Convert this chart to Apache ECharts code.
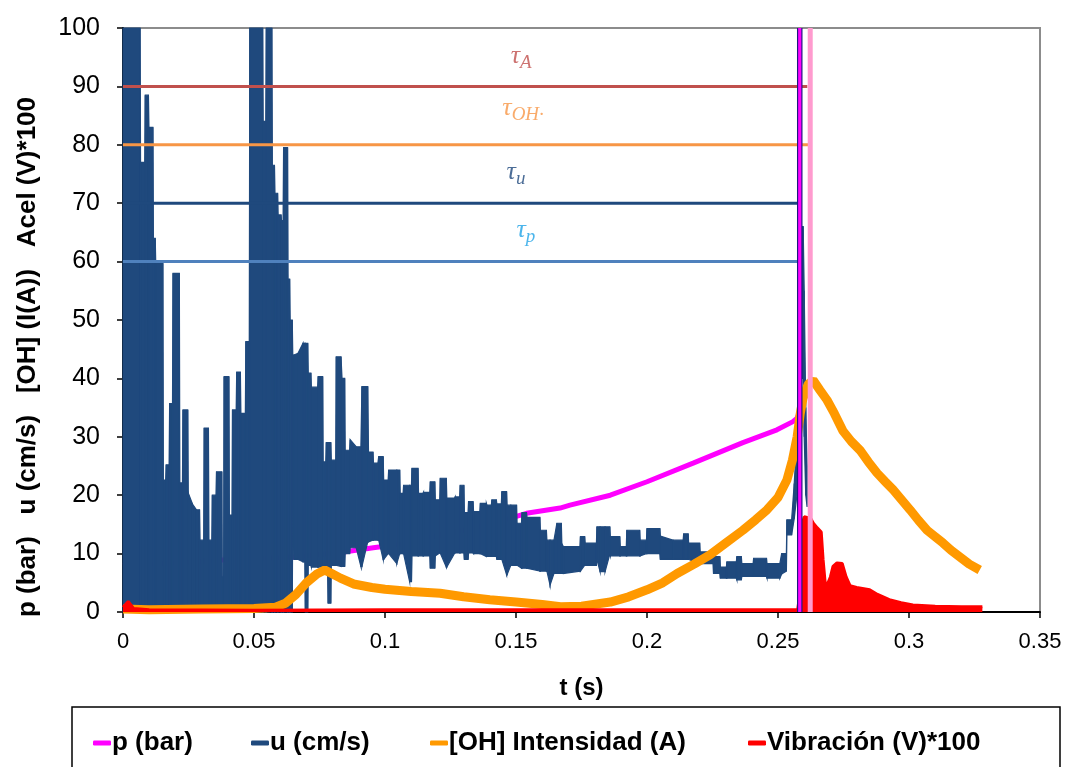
<!DOCTYPE html>
<html><head><meta charset="utf-8">
<script src="https://cdn.jsdelivr.net/npm/echarts@6/dist/echarts.min.js"></script>
<style>html,body{margin:0;padding:0;background:#fff}#c{width:1069px;height:767px}</style>
</head><body><div id="c"></div>
<script>
// ---------- DATA ----------
const seriesNames = ['p (bar)', 'u (cm/s)', '[OH] Intensidad (A)', 'Vibración (V)*100'];
const seriesColors = ['#FF00FF', '#1F497D', '#FF9900', '#FF0000'];

// p (bar): [t, value]
const pData = [
  [0.000, 8.0], [0.020, 8.4], [0.038, 8.9], [0.050, 9.1], [0.065, 9.4], [0.083, 10.2],
  [0.0955, 11.0], [0.1095, 11.8], [0.1134, 12.5], [0.130, 14.0], [0.140, 15.0], [0.154, 16.9],
  [0.1668, 17.8], [0.1706, 18.3], [0.186, 20.0], [0.200, 22.3], [0.2176, 25.5], [0.2366, 29.0],
  [0.2496, 31.2], [0.2557, 32.6], [0.2573, 33.2], [0.2580, 34.0]
];

// u (cm/s): [t, low envelope, high envelope]
const uEnvelope = [
  [0.0000, 0, 100], [0.0065, 0, 100], [0.0067, 0, 77], [0.0083, 0, 77], [0.0085, 0, 88.5],
  [0.0097, 0, 88.5], [0.0099, 0, 83], [0.0114, 0, 83], [0.0116, 0, 64], [0.0123, 0, 64],
  [0.0125, 0, 59.7], [0.0152, 0, 59.7], [0.0154, 0, 22.6], [0.0163, 0, 22.6], [0.0165, 0, 25.2],
  [0.0176, 0, 25.2], [0.0178, 0, 35.7], [0.0189, 0, 35.7], [0.0191, 0, 58], [0.0215, 0, 58],
  [0.0217, 0, 22.1], [0.0227, 0, 22.1], [0.0229, 0, 34.6], [0.0247, 0, 34.6], [0.0249, 0, 20.4],
  [0.0265, 0, 18.5], [0.0280, 0, 17.5], [0.0292, 0, 17.5], [0.0294, 0, 12.3], [0.0308, 0, 12.3],
  [0.0310, 0, 31.5], [0.0326, 0, 31.5], [0.0328, 0, 12.3], [0.0339, 0, 12.3], [0.0341, 0, 20],
  [0.0355, 0, 20], [0.0357, 0, 24], [0.0377, 0, 24], [0.0379, 0, 6], [0.0384, 0, 6],
  [0.0386, 0, 40.3], [0.0404, 0, 40.3], [0.0406, 0, 16.6], [0.0416, 0, 16.6], [0.0418, 0, 34.6],
  [0.0432, 0, 34.6], [0.0434, 0, 41.1], [0.0448, 0, 41.1], [0.0450, 0, 34], [0.0467, 0, 34],
  [0.0469, 0, 46.3], [0.0482, 0, 46.3], [0.0484, 0, 100], [0.0533, 0, 100], [0.0535, 0, 84],
  [0.0545, 0, 84], [0.0547, 0, 100], [0.0568, 0, 100], [0.0570, 0, 76.5], [0.0578, 0, 76.5],
  [0.0580, 0, 71.7], [0.0590, 0, 71.7], [0.0592, 0, 68], [0.0603, 0, 68], [0.0605, 0, 67],
  [0.0611, 0, 67], [0.0613, 0, 79.5], [0.0628, 0, 79.5], [0.0630, 0, 57], [0.0636, 0, 57],
  [0.0638, 0, 50], [0.0646, 0, 50], [0.0648, 19, 44], [0.0652, 9, 44], [0.0668, 9, 44.3],
  [0.0687, 8.6, 46], [0.0694, 8.6, 46], [0.0696, 0, 46], [0.0705, 0, 46], [0.0707, 8, 40.9],
  [0.0717, 8, 40.9], [0.0719, 7.7, 38.5], [0.0743, 7.7, 38.5], [0.0745, 7.7, 40.3], [0.0762, 7.7, 40.3],
  [0.0764, 8, 25.7], [0.0774, 8, 25.7], [0.0776, 7, 29], [0.0781, 7, 29], [0.0783, 1.5, 29],
  [0.0793, 1.5, 29], [0.0795, 8, 26], [0.0812, 8, 26], [0.0814, 8, 43.7], [0.0832, 7.8, 43.7],
  [0.0836, 7.8, 40], [0.0846, 7.8, 40], [0.0848, 10, 27.7], [0.0865, 10, 27.7], [0.0867, 11, 29.5],
  [0.0890, 11, 28.3], [0.0908, 7.8, 28.3], [0.0912, 7.8, 38.6], [0.0934, 12, 38.6], [0.0937, 12, 27.4],
  [0.0954, 12.3, 27.4], [0.0956, 12.3, 25.5], [0.0973, 12.3, 25.5], [0.0976, 12.3, 26.6], [0.0993, 9, 26.6],
  [0.0995, 9, 22.6], [0.1012, 10, 22.6], [0.1014, 10, 24.3], [0.1045, 8.3, 24.3], [0.1056, 10, 24.3],
  [0.1058, 10, 20.3], [0.1069, 10, 20.3], [0.1071, 10, 21.7], [0.1094, 5.2, 21.7], [0.1101, 5.2, 21.7],
  [0.1103, 9.6, 24.6], [0.1126, 9.6, 24.6], [0.1128, 9.6, 20.3], [0.1145, 9.6, 20.3], [0.1147, 9.6, 20.5],
  [0.1171, 9.6, 20.5], [0.1173, 7.5, 22.3], [0.1190, 7.5, 22.3], [0.1192, 9.6, 19.2], [0.1209, 10.1, 19.2],
  [0.1211, 10.1, 22.9], [0.1234, 7.7, 22.9], [0.1236, 7.7, 19.5], [0.1266, 10.1, 19.5], [0.1268, 10.1, 19.7],
  [0.1285, 10.1, 19.7], [0.1287, 10.1, 21.7], [0.1301, 10.1, 21.7], [0.1303, 9, 17], [0.1317, 9, 17],
  [0.1319, 10.1, 18.9], [0.1336, 10.1, 18.9], [0.1338, 10, 17.2], [0.1362, 10, 17.2], [0.1364, 10, 18.6],
  [0.1387, 9.5, 18.6], [0.1389, 9.5, 18.3], [0.1406, 9.5, 18.3], [0.1408, 9.5, 19.2], [0.1425, 9.5, 19.2],
  [0.1427, 9, 18.5], [0.1444, 9, 18.5], [0.1446, 9, 20.6], [0.1464, 6.4, 20.6], [0.1466, 6.4, 18.3],
  [0.1480, 8, 18.3], [0.1502, 8, 18.3], [0.1504, 8, 15.2], [0.1521, 7.5, 15.2], [0.1523, 7.5, 17],
  [0.1540, 7.5, 17], [0.1542, 7.5, 16.2], [0.1591, 7, 16.2], [0.1593, 7, 14], [0.1616, 7, 14],
  [0.1618, 7, 12.3], [0.1630, 4.6, 12.3], [0.1645, 6.6, 12.3], [0.1656, 6.6, 15.2], [0.1673, 6.6, 15.2],
  [0.1675, 6.6, 11.7], [0.1681, 6.6, 11.2], [0.1744, 7, 11.2], [0.1746, 7, 12.9], [0.1762, 8, 12.9],
  [0.1764, 8, 11.8], [0.1807, 8, 11.8], [0.1809, 9, 14.6], [0.1821, 6.9, 14.6], [0.1840, 6.9, 14.6],
  [0.1858, 9.9, 14.6], [0.1860, 9.6, 12.9], [0.1896, 9.6, 12.9], [0.1898, 9.6, 11.2], [0.1921, 9.6, 11.2],
  [0.1923, 9.6, 14], [0.1972, 9.6, 14], [0.1974, 9.6, 12.3], [0.1998, 10, 12.3], [0.2000, 10, 14.3],
  [0.2049, 10, 14.3], [0.2051, 9, 13], [0.2100, 9, 12.3], [0.2138, 9, 12.3], [0.2140, 9, 13.4],
  [0.2157, 9, 13.4], [0.2159, 9, 11.8], [0.2201, 8.3, 11.8], [0.2203, 8.3, 10.3], [0.2252, 8.3, 10.3],
  [0.2254, 6.6, 9.5], [0.2278, 6.6, 9.5], [0.2280, 5.8, 7.7], [0.2303, 5.8, 7.7], [0.2305, 5.8, 8.6],
  [0.2341, 5.8, 8.6], [0.2343, 5.5, 9.5], [0.2360, 5.5, 9.5], [0.2362, 6.1, 8.3], [0.2405, 6.1, 8.3],
  [0.2407, 6.1, 9.2], [0.2456, 6.1, 9.2], [0.2458, 5.8, 8.3], [0.2507, 5.8, 8.3], [0.2514, 6.5, 10],
  [0.2532, 7, 10], [0.2534, 13.2, 15.8], [0.2552, 13.2, 15.8], [0.2562, 16, 22], [0.2572, 20, 30],
  [0.2582, 30, 48], [0.2588, 40, 66], [0.2596, 40, 66], [0.2600, 30, 55], [0.2606, 20, 35],
  [0.2611, 18, 25]
];

// [OH] Intensidad (A): [t, value]
const ohData = [
  [0.000, 0.5], [0.010, 0.4], [0.030, 0.5], [0.050, 0.6], [0.058, 0.8], [0.062, 1.5], [0.066, 3.0],
  [0.070, 5.0], [0.074, 6.5], [0.077, 7.2], [0.080, 6.5], [0.083, 5.8], [0.088, 4.8], [0.095, 4.2],
  [0.100, 3.9], [0.110, 3.5], [0.121, 3.2], [0.130, 2.6], [0.140, 2.1], [0.150, 1.7], [0.160, 1.3],
  [0.167, 0.9], [0.175, 1.0], [0.186, 1.7], [0.193, 2.6], [0.200, 3.8], [0.206, 5.0], [0.2115, 6.6],
  [0.218, 8.2], [0.224, 9.8], [0.230, 11.8], [0.2366, 14.0], [0.2415, 15.8], [0.2458, 17.5],
  [0.250, 19.6], [0.2534, 22.6], [0.2555, 26.0], [0.2573, 30.0], [0.2585, 34.0], [0.2595, 36.5],
  [0.2615, 39.0], [0.2634, 39.7], [0.2660, 38.0], [0.2687, 36.3], [0.2715, 34.0], [0.2748, 31.0],
  [0.2780, 29.2], [0.2813, 27.7], [0.2845, 25.7], [0.2878, 23.8], [0.2910, 22.3], [0.2940, 20.9],
  [0.2972, 19.2], [0.3004, 17.5], [0.3036, 15.7], [0.3069, 14.0], [0.3100, 12.9], [0.3130, 11.8],
  [0.3160, 10.6], [0.3195, 9.4], [0.3230, 8.2], [0.3270, 7.2]
];

// Vibración (V)*100: [t, value]
const vibData = [
  [0.000, 0.8], [0.002, 1.8], [0.004, 0.6], [0.010, 0.4], [0.050, 0.3], [0.100, 0.4], [0.150, 0.4],
  [0.200, 0.4], [0.2575, 0.4], [0.2580, 2.0], [0.2586, 12.0], [0.2592, 15.0], [0.2600, 16.3],
  [0.2625, 16.0], [0.2635, 15.2], [0.2650, 14.4], [0.2665, 13.7], [0.2672, 9.0], [0.2680, 5.0],
  [0.2690, 4.9], [0.2700, 6.0], [0.2710, 7.8], [0.2725, 8.4], [0.2745, 8.3], [0.2760, 6.0],
  [0.2775, 4.5], [0.2800, 4.2], [0.2850, 3.8], [0.2880, 3.0], [0.2925, 2.1], [0.2970, 1.6],
  [0.3015, 1.2], [0.3100, 1.0], [0.3200, 0.9], [0.3280, 0.9]
];

// reference (tau) lines and labels
const tauLevels = [90, 80, 70, 60];
const tauEnds = [0.2612, 0.2627, 0.2590, 0.2587];
const tauLineColors = ['#C0504D', '#F79646', '#1F497D', '#4F81BD'];
const tauSubs = ['A', 'OH·', 'u', 'p'];
const tauLabelPos = [[0.1520, 95.2], [0.1527, 86.3], [0.1500, 75.3], [0.1538, 65.4]];
const tauLabelColors = ['#C0504D', '#F79646', '#1F497D', '#1FA3E6'];

// vertical marker lines
const markerTimes = [0.2583, 0.2623];

// ---------- CHART ----------
const chart = echarts.init(document.getElementById('c'));
const FONT = 'Liberation Sans, Arial, sans-serif';
const legendLeft = [93, 251, 430, 748];

const series = [];
series.push({
  name: seriesNames[0], type: 'line', data: pData, showSymbol: false, symbol: 'none',
  lineStyle: { color: seriesColors[0], width: 5 }, itemStyle: { color: seriesColors[0] }, z: 2
});
// u band: one quad per envelope segment, placed through the axes
series.push({
  name: seriesNames[1], type: 'custom', z: 3, silent: true,
  itemStyle: { color: seriesColors[1] },
  encode: { x: 0, y: [1, 2] },
  data: uEnvelope,
  renderItem: function (params, api) {
    const i = params.dataIndex;
    if (i >= uEnvelope.length - 1) return null;
    const a = uEnvelope[i], b = uEnvelope[i + 1];
    const pts = [
      api.coord([a[0], a[2]]), api.coord([b[0], b[2]]),
      api.coord([b[0], b[1]]), api.coord([a[0], a[1]])
    ];
    return {
      type: 'polygon',
      shape: { points: pts },
      style: { fill: seriesColors[1], stroke: seriesColors[1], lineWidth: 1.2 }
    };
  }
});
series.push({
  name: seriesNames[2], type: 'line', data: ohData, showSymbol: false, symbol: 'none',
  lineStyle: { color: seriesColors[2], width: 9 }, itemStyle: { color: seriesColors[2] }, z: 4
});
series.push({
  name: seriesNames[3], type: 'line', data: vibData, showSymbol: false, symbol: 'none',
  lineStyle: { color: seriesColors[3], width: 3 }, itemStyle: { color: seriesColors[3] },
  areaStyle: { color: seriesColors[3], opacity: 1 }, z: 5
});
tauLevels.forEach((lv, i) => {
  series.push({
    name: 'tau' + i, type: 'line', data: [[0, lv], [tauEnds[i], lv]], showSymbol: false, symbol: 'none',
    lineStyle: { color: tauLineColors[i], width: 3 }, z: 6, silent: true
  });
});
series.push({
  name: 'vline0', type: 'line', data: [[markerTimes[0], 0], [markerTimes[0], 100]], showSymbol: false, symbol: 'none',
  lineStyle: { color: '#1A1A7E', width: 5.5 }, z: 7, silent: true
});
series.push({
  name: 'vline1', type: 'line', data: [[markerTimes[0], 0], [markerTimes[0], 100]], showSymbol: false, symbol: 'none',
  lineStyle: { color: '#FF00FF', width: 3.2 }, z: 8, silent: true
});
series.push({
  name: 'vline2', type: 'line', data: [[markerTimes[1], 0], [markerTimes[1], 100]], showSymbol: false, symbol: 'none',
  lineStyle: { color: '#FF9BCF', width: 5 }, z: 8, silent: true
});
series.push({
  name: 'tauLabels', type: 'scatter', symbolSize: 0, z: 9, silent: true,
  data: tauLabelPos.map((p, i) => ({
    value: p,
    label: {
      show: true, position: 'inside',
      formatter: '{t|τ}{s|' + tauSubs[i] + '}',
      rich: {
        t: { fontFamily: 'Liberation Serif', fontStyle: 'italic', fontSize: 26, color: tauLabelColors[i] },
        s: { fontFamily: 'Liberation Serif', fontStyle: 'italic', fontSize: 19, color: tauLabelColors[i], padding: [13, 0, 0, 0] }
      }
    }
  }))
});

chart.setOption({
  animation: false,
  backgroundColor: '#fff',
  grid: { left: 123, right: 29, top: 28, bottom: 155, show: true, borderColor: '#8c8c8c', borderWidth: 2, backgroundColor: 'transparent' },
  legend: seriesNames.map((n, i) => ({
    data: [n], top: 730, left: legendLeft[i], itemWidth: 18, itemHeight: 5, icon: 'roundRect', padding: 0,
    textStyle: { fontFamily: FONT, fontWeight: 'bold', fontSize: 26, color: '#000', padding: [0, 0, 0, -4] }
  })),
  xAxis: {
    type: 'value', min: 0, max: 0.35, interval: 0.05,
    name: 't (s)', nameLocation: 'middle', nameGap: 64,
    nameTextStyle: { fontFamily: FONT, fontWeight: 'bold', fontSize: 24, color: '#000' },
    axisLine: { show: true, onZero: false, lineStyle: { color: '#000', width: 2 } },
    axisTick: { show: true, inside: false, length: 6, lineStyle: { color: '#000', width: 1.5 } },
    axisLabel: { fontFamily: FONT, fontSize: 22, color: '#000', margin: 19 },
    splitLine: { show: false }
  },
  yAxis: {
    type: 'value', min: 0, max: 100, interval: 10,
    axisLine: { show: true, lineStyle: { color: '#000', width: 2 } },
    axisTick: { show: true, inside: false, length: 6, lineStyle: { color: '#000', width: 1.5 } },
    axisLabel: { fontFamily: FONT, fontSize: 25, color: '#000', margin: 23 },
    splitLine: { show: false }
  },
  graphic: [
    { type: 'rect', shape: { x: 72, y: 707, width: 988, height: 80 }, style: { fill: 'none', stroke: '#000', lineWidth: 1.5 }, z: 100 },
    { type: 'text', x: 28, y: 357, rotation: Math.PI / 2,
      style: { text: 'p (bar)   u (cm/s)   [OH] (I(A))   Acel (V)*100', font: 'bold 26px Liberation Sans', fill: '#000', align: 'center', verticalAlign: 'middle' } }
  ],
  series: series
});
</script></body></html>
